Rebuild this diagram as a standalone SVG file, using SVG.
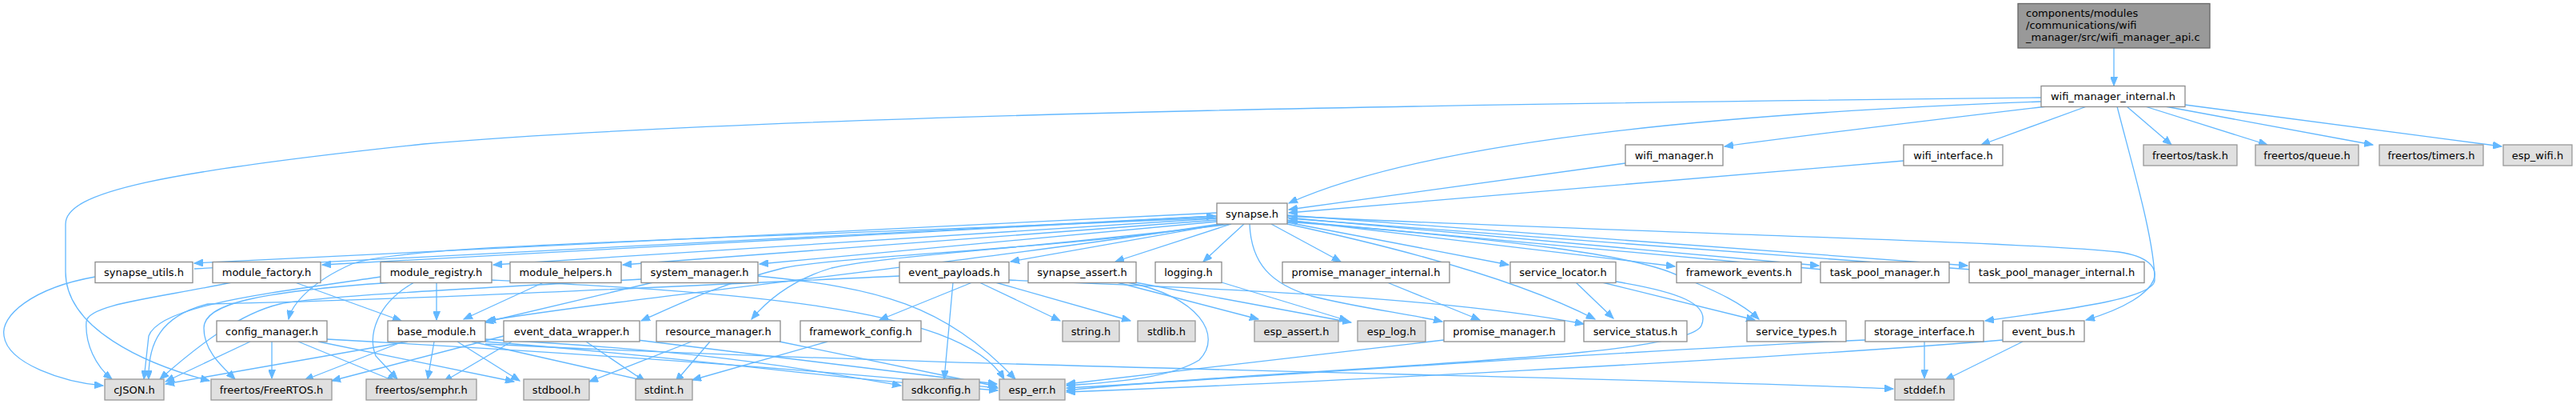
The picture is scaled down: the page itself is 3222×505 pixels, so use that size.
<svg xmlns="http://www.w3.org/2000/svg" width="3222" height="505" viewBox="0 0 3222 505">
<style>
text{font-family:"DejaVu Sans","Liberation Sans",sans-serif;font-size:13px;fill:#000;text-anchor:middle}
.n{fill:#fff;stroke:#8c8c8c;stroke-width:1.3}
.g{fill:#e0e0e0;stroke:#999;stroke-width:1.3}
.r{fill:#999;stroke:#666;stroke-width:1.3}
#edges path{fill:none;stroke:#63b8ff;stroke-width:1.3;marker-end:url(#ah)}
</style>
<defs>
<marker id="ah" markerUnits="userSpaceOnUse" markerWidth="12" markerHeight="9" refX="11" refY="4.5" orient="auto">
<path d="M0,0 L11,4.5 L0,9 z" fill="#63b8ff" stroke="#63b8ff"/>
</marker>
</defs>
<rect width="3222" height="505" fill="#fff"/>
<g id="edges">
<path d="M2644,60 L2644,107"/>
<path d="M2553,122 C2000,128 1000,140 530,180 C200,215 82,240 82,280 L82,340 C82,410 180,455 262,476"/>
<path d="M2553,127 C2200,140 1800,170 1612,254"/>
<path d="M2560,133 C2400,152 2250,170 2157,183"/>
<path d="M2610,133 L2478,181"/>
<path d="M2660,133 L2716,181"/>
<path d="M2683,133 L2836,181"/>
<path d="M2708,133 L2968,181"/>
<path d="M2733,131 L3129,183"/>
<path d="M2648,133 C2665,200 2695,300 2695,350 C2695,372 2600,385 2483,401"/>
<path d="M2033,204 L1612,262"/>
<path d="M2381,201 L1612,266"/>
<path d="M1522,266 L243,329"/>
<path d="M243,336 L1520,270"/>
<path d="M1522,270 L403,331"/>
<path d="M1522,273 L617,331"/>
<path d="M1522,275 L779,331"/>
<path d="M1522,277 L950,330"/>
<path d="M1530,280 L1264,327"/>
<path d="M1540,280 L1395,327"/>
<path d="M1556,280 L1505,327"/>
<path d="M1590,280 L1677,327"/>
<path d="M1610,278 L1887,331"/>
<path d="M1610,275 L2095,333"/>
<path d="M1610,272 L2275,332"/>
<path d="M2280,337 L1612,276"/>
<path d="M1610,269 L2461,332"/>
<path d="M2466,337 L1612,273"/>
<path d="M1522,272 C900,300 500,305 440,330 C390,352 365,380 361,399"/>
<path d="M1525,280 C1200,330 800,370 609,401"/>
<path d="M1530,280 C1350,310 1050,320 980,335 C900,355 850,380 802,401"/>
<path d="M1540,280 C1300,310 1100,320 1040,335 C990,350 960,375 940,399"/>
<path d="M1563,280 C1565,330 1590,355 1640,370 C1700,385 1760,392 1804,402"/>
<path d="M1610,280 C1750,310 1900,350 1995,399"/>
<path d="M1610,277 C1900,300 2050,320 2100,345 C2150,365 2180,380 2200,399"/>
<path d="M1610,270 C2000,290 2500,300 2650,315 C2720,325 2710,370 2609,400"/>
<path d="M119,346 C40,360 0,395 5,420 C10,455 80,478 129,482"/>
<path d="M290,353 C200,372 110,380 108,402 C106,430 120,458 140,474"/>
<path d="M369,353 L502,401"/>
<path d="M476,346 C350,365 200,380 186,420 L180,474"/>
<path d="M490,353 C320,365 255,380 255,410 C255,440 280,460 294,474"/>
<path d="M518,353 C470,380 460,420 470,445 L497,474"/>
<path d="M546,353 L546,400"/>
<path d="M615,350 C900,365 1200,380 1256,474"/>
<path d="M680,353 L580,399"/>
<path d="M817,353 L606,403"/>
<path d="M948,345 C1100,360 1180,380 1270,474"/>
<path d="M802,349 C600,360 400,370 350,380 C300,392 250,430 200,474"/>
<path d="M1125,345 C800,360 500,375 260,380 C200,395 185,430 186,474"/>
<path d="M1216,353 L1100,400"/>
<path d="M1192,353 L1181,474"/>
<path d="M1225,353 L1326,401"/>
<path d="M1245,353 L1414,401"/>
<path d="M1262,350 C1500,360 1800,370 1981,405"/>
<path d="M1397,353 L1574,399"/>
<path d="M1420,353 L1690,403"/>
<path d="M1410,353 C1500,370 1530,420 1500,450 C1460,475 1380,478 1334,482"/>
<path d="M1528,353 L1686,401"/>
<path d="M1735,353 L1851,400"/>
<path d="M1971,353 L2018,398"/>
<path d="M2004,353 L2195,400"/>
<path d="M2021,352 C2100,365 2140,380 2128,407 C2110,450 1600,460 1334,488"/>
<path d="M313,427 L207,477"/>
<path d="M340,427 L340,473"/>
<path d="M373,427 L495,477"/>
<path d="M398,427 L643,477"/>
<path d="M409,424 C700,440 1000,460 1248,485"/>
<path d="M510,427 L207,480"/>
<path d="M504,427 L381,475"/>
<path d="M543,427 L535,474"/>
<path d="M572,427 L650,476"/>
<path d="M590,427 L807,476"/>
<path d="M607,424 C900,440 1000,460 1127,482"/>
<path d="M607,427 C900,450 1000,470 1248,488"/>
<path d="M607,430 C1200,460 2000,470 2368,486"/>
<path d="M630,420 L415,476"/>
<path d="M640,427 L555,477"/>
<path d="M733,427 L807,477"/>
<path d="M797,425 L1247,480"/>
<path d="M865,427 L737,477"/>
<path d="M888,427 L845,477"/>
<path d="M975,427 L1247,483"/>
<path d="M1035,427 L866,475"/>
<path d="M1806,425 L1334,480"/>
<path d="M2333,425 C2000,440 1600,470 1334,485"/>
<path d="M2407,427 L2407,473"/>
<path d="M2505,425 C2200,450 1600,480 1334,490"/>
<path d="M2530,427 L2433,475"/>
</g>
<g id="n_api"><rect class="r" x="2524" y="4.5" width="240" height="55.5"/><text x="2534" y="20.5" style="text-anchor:start">components/modules</text><text x="2534" y="35.5" style="text-anchor:start">/communications/wifi</text><text x="2534" y="50.5" style="text-anchor:start">_manager/src/wifi_manager_api.c</text></g>
<g id="n_wmi"><rect class="n" x="2553" y="107.5" width="180" height="26"/><text x="2643" y="125">wifi_manager_internal.h</text></g>
<g id="n_wm"><rect class="n" x="2033" y="181" width="122" height="26"/><text x="2094" y="198.5">wifi_manager.h</text></g>
<g id="n_wi"><rect class="n" x="2381" y="181" width="124" height="26"/><text x="2443" y="198.5">wifi_interface.h</text></g>
<g id="n_task"><rect class="g" x="2681" y="181" width="117" height="26"/><text x="2739.5" y="198.5">freertos/task.h</text></g>
<g id="n_queue"><rect class="g" x="2821" y="181" width="129" height="26"/><text x="2885.5" y="198.5">freertos/queue.h</text></g>
<g id="n_timers"><rect class="g" x="2976" y="181" width="130" height="26"/><text x="3041" y="198.5">freertos/timers.h</text></g>
<g id="n_espwifi"><rect class="g" x="3131" y="181" width="86" height="26"/><text x="3174" y="198.5">esp_wifi.h</text></g>
<g id="n_syn"><rect class="n" x="1522" y="254" width="88" height="26"/><text x="1566" y="271.5">synapse.h</text></g>
<g id="n_su"><rect class="n" x="119" y="327.5" width="122" height="26"/><text x="180" y="345">synapse_utils.h</text></g>
<g id="n_mf"><rect class="n" x="266" y="327.5" width="135" height="26"/><text x="333.5" y="345">module_factory.h</text></g>
<g id="n_mr"><rect class="n" x="476" y="327.5" width="139" height="26"/><text x="545.5" y="345">module_registry.h</text></g>
<g id="n_mh"><rect class="n" x="638" y="327.5" width="139" height="26"/><text x="707.5" y="345">module_helpers.h</text></g>
<g id="n_sm"><rect class="n" x="802" y="327.5" width="146" height="26"/><text x="875" y="345">system_manager.h</text></g>
<g id="n_ep"><rect class="n" x="1125" y="327.5" width="137" height="26"/><text x="1193.5" y="345">event_payloads.h</text></g>
<g id="n_sa"><rect class="n" x="1286" y="327.5" width="135" height="26"/><text x="1353.5" y="345">synapse_assert.h</text></g>
<g id="n_log"><rect class="n" x="1445" y="327.5" width="83" height="26"/><text x="1486.5" y="345">logging.h</text></g>
<g id="n_pmi"><rect class="n" x="1604" y="327.5" width="209" height="26"/><text x="1708.5" y="345">promise_manager_internal.h</text></g>
<g id="n_sl"><rect class="n" x="1889" y="327.5" width="132" height="26"/><text x="1955" y="345">service_locator.h</text></g>
<g id="n_fe"><rect class="n" x="2097" y="327.5" width="156" height="26"/><text x="2175" y="345">framework_events.h</text></g>
<g id="n_tpm"><rect class="n" x="2277" y="327.5" width="161" height="26"/><text x="2357.5" y="345">task_pool_manager.h</text></g>
<g id="n_tpmi"><rect class="n" x="2463" y="327.5" width="219" height="26"/><text x="2572.5" y="345">task_pool_manager_internal.h</text></g>
<g id="n_cm"><rect class="n" x="271" y="401" width="138" height="26"/><text x="340" y="418.5">config_manager.h</text></g>
<g id="n_bm"><rect class="n" x="485" y="401" width="122" height="26"/><text x="546" y="418.5">base_module.h</text></g>
<g id="n_edw"><rect class="n" x="630" y="401" width="170" height="26"/><text x="715" y="418.5">event_data_wrapper.h</text></g>
<g id="n_rm"><rect class="n" x="821" y="401" width="155" height="26"/><text x="898.5" y="418.5">resource_manager.h</text></g>
<g id="n_fc"><rect class="n" x="1001" y="401" width="151" height="26"/><text x="1076.5" y="418.5">framework_config.h</text></g>
<g id="n_string"><rect class="g" x="1329" y="401" width="71" height="26"/><text x="1364.5" y="418.5">string.h</text></g>
<g id="n_stdlib"><rect class="g" x="1423" y="401" width="72" height="26"/><text x="1459" y="418.5">stdlib.h</text></g>
<g id="n_espassert"><rect class="g" x="1569" y="401" width="105" height="26"/><text x="1621.5" y="418.5">esp_assert.h</text></g>
<g id="n_esplog"><rect class="g" x="1698" y="401" width="85" height="26"/><text x="1740.5" y="418.5">esp_log.h</text></g>
<g id="n_pm"><rect class="n" x="1806" y="401" width="151" height="26"/><text x="1881.5" y="418.5">promise_manager.h</text></g>
<g id="n_ss"><rect class="n" x="1981" y="401" width="129" height="26"/><text x="2045.5" y="418.5">service_status.h</text></g>
<g id="n_st"><rect class="n" x="2185" y="401" width="124" height="26"/><text x="2247" y="418.5">service_types.h</text></g>
<g id="n_si"><rect class="n" x="2333" y="401" width="148" height="26"/><text x="2407" y="418.5">storage_interface.h</text></g>
<g id="n_eb"><rect class="n" x="2505" y="401" width="102" height="26"/><text x="2556" y="418.5">event_bus.h</text></g>
<g id="n_cjson"><rect class="g" x="131" y="474" width="74" height="26"/><text x="168" y="491.5">cJSON.h</text></g>
<g id="n_frtos"><rect class="g" x="264" y="474" width="151" height="26"/><text x="339.5" y="491.5">freertos/FreeRTOS.h</text></g>
<g id="n_semphr"><rect class="g" x="458" y="474" width="138" height="26"/><text x="527" y="491.5">freertos/semphr.h</text></g>
<g id="n_stdbool"><rect class="g" x="655" y="474" width="82" height="26"/><text x="696" y="491.5">stdbool.h</text></g>
<g id="n_stdint"><rect class="g" x="795" y="474" width="71" height="26"/><text x="830.5" y="491.5">stdint.h</text></g>
<g id="n_sdk"><rect class="g" x="1129" y="474" width="96" height="26"/><text x="1177" y="491.5">sdkconfig.h</text></g>
<g id="n_esperr"><rect class="g" x="1250" y="474" width="82" height="26"/><text x="1291" y="491.5">esp_err.h</text></g>
<g id="n_stddef"><rect class="g" x="2370" y="474" width="74" height="26"/><text x="2407" y="491.5">stddef.h</text></g>
</svg>
